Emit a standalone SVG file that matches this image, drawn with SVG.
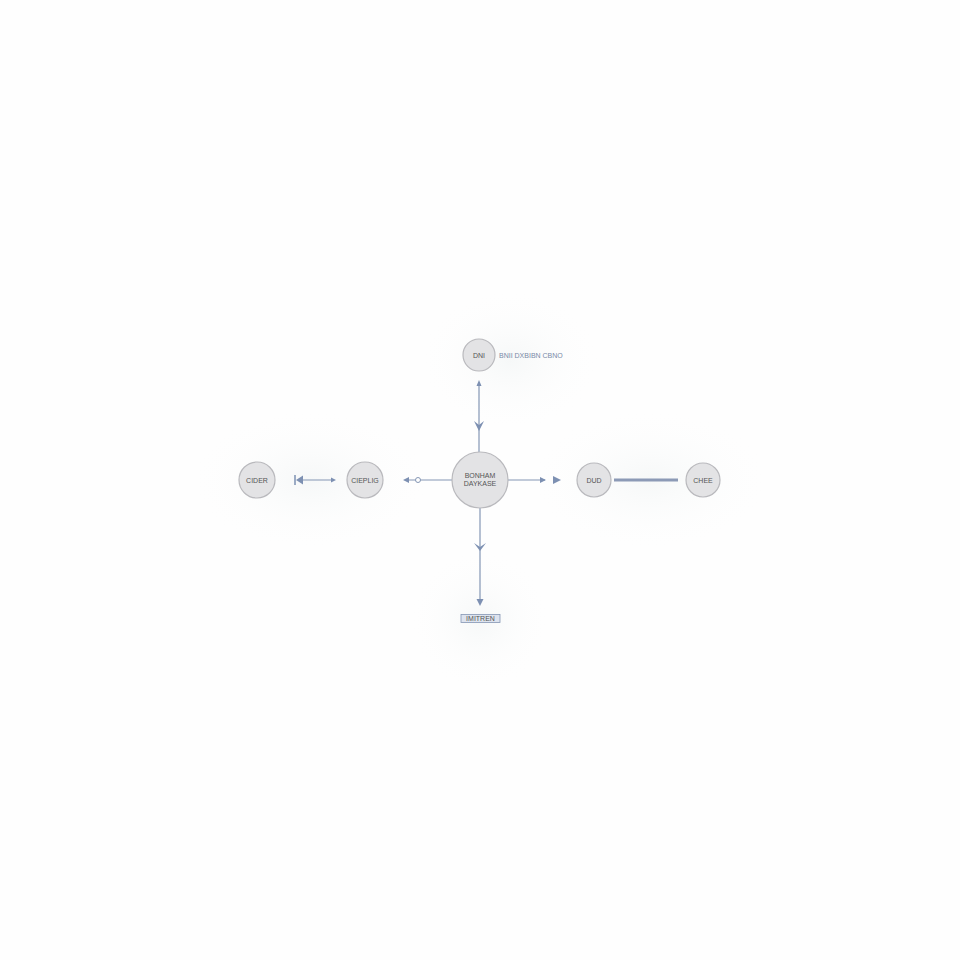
<svg xmlns="http://www.w3.org/2000/svg" width="960" height="960" viewBox="0 0 960 960">
<style>
.n{fill:#e3e3e5;stroke:#b9b9bd;stroke-width:1.2}
.t{font-family:"Liberation Sans",Arial,sans-serif;font-size:7px;fill:#555;text-anchor:middle}
.c{stroke:#8496b4;stroke-width:1.2;fill:none}
.a{fill:#7d90b2}
</style>
<defs>
<radialGradient id="halo"><stop offset="0" stop-color="#f6f8f8"/><stop offset="1" stop-color="#fefefe" stop-opacity="0"/></radialGradient>
</defs>
<rect width="960" height="960" fill="#fefefe"/>
<g id="halos">
<ellipse cx="510" cy="360" rx="90" ry="70" fill="url(#halo)"/>
<ellipse cx="310" cy="480" rx="120" ry="70" fill="url(#halo)"/>
<ellipse cx="650" cy="480" rx="120" ry="70" fill="url(#halo)"/>
<ellipse cx="480" cy="620" rx="70" ry="70" fill="url(#halo)"/>
</g>
<g id="connectors">
<line class="c" x1="479" y1="382" x2="479" y2="452"/>
<path class="a" d="M479,380 L476.5,386 L481.5,386 Z"/>
<path class="a" d="M474,421 L479,425 L484,421 L479,431 Z"/>
<line class="c" x1="452" y1="480" x2="405" y2="480"/>
<circle cx="418" cy="480" r="2.5" fill="#fff" stroke="#8496b4" stroke-width="1"/>
<path class="a" d="M403,480 L409,477 L409,483 Z"/>
<line class="c" x1="298" y1="480" x2="334" y2="480"/>
<path class="a" d="M336,480 L331,477.5 L331,482.5 Z"/>
<path class="a" d="M296,480 L303,475.5 L303,484.5 Z"/>
<line x1="295" y1="475" x2="295" y2="485" stroke="#7d90b2" stroke-width="1.5"/>
<line class="c" x1="508" y1="480" x2="545" y2="480"/>
<path class="a" d="M546,480 L540,477 L540,483 Z"/>
<path class="a" d="M561,480 L553,476 L553,484 Z"/>
<line x1="614" y1="480" x2="678" y2="480" stroke="#8c9ab6" stroke-width="3"/>
<line class="c" x1="480" y1="508" x2="480" y2="603"/>
<path class="a" d="M474,543 L480,547 L486,543 L480,551 Z"/>
<path class="a" d="M480,606 L476.5,599 L483.5,599 Z"/>
</g>
<g id="node-top">
<circle class="n" cx="479" cy="355" r="16"/>
<text class="t" x="479" y="357.5" font-size="6">DNI</text>
<text class="t" x="499" y="357.5" font-size="6" style="text-anchor:start;fill:#7a8aa8">BNII DXBIBN CBNO</text>
</g>
<g id="node-center">
<circle class="n" cx="480" cy="480" r="28"/>
<text class="t" x="480" y="478">BONHAM</text>
<text class="t" x="480" y="486">DAYKASE</text>
</g>
<g id="node-left1">
<circle class="n" cx="257" cy="480" r="18"/>
<text class="t" x="257" y="482.5" font-size="6">CIDER</text>
</g>
<g id="node-left2">
<circle class="n" cx="365" cy="480" r="18"/>
<text class="t" x="365" y="482.5" font-size="6">CIEPLIG</text>
</g>
<g id="node-right1">
<circle class="n" cx="594" cy="480" r="17"/>
<text class="t" x="594" y="482.5" font-size="6">DUD</text>
</g>
<g id="node-right2">
<circle class="n" cx="703" cy="480" r="17"/>
<text class="t" x="703" y="482.5" font-size="6">CHEE</text>
</g>
<g id="node-bottom">
<rect x="461" y="614.5" width="39" height="8" fill="#dde3ee" stroke="#8496b4" stroke-width="0.8"/>
<text class="t" x="480.5" y="620.8" font-size="6" fill="#5a6a8a">IMITREN</text>
</g>
</svg>
